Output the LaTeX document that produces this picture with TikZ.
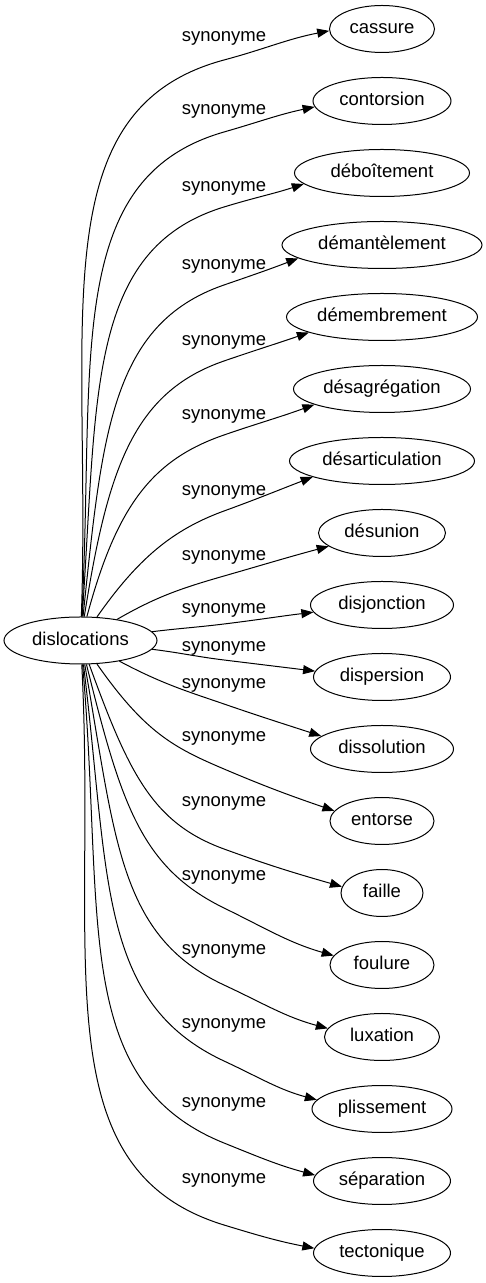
\documentclass[tikz,border=0pt]{standalone}
\usepackage{fontspec}
\setmainfont{Liberation Sans}
\usetikzlibrary{arrows.meta,shapes.geometric}
\begin{document}
\begin{tikzpicture}[x=1pt,y=1pt,
  every node/.style={font=\fontsize{18.5}{22}\selectfont, text height=13.5pt, text depth=3.9pt, inner sep=0pt},
  term/.style={draw, ellipse, line width=1pt, minimum height=47pt},
  link/.style={draw, line width=1pt, -{Triangle[length=12pt,width=9pt]}},
  far/.style={out looseness=1.3, in looseness=0.85},
  mid/.style={out looseness=1.1, in looseness=0.85}]
\useasboundingbox (0,0) rectangle (486,1283);
\node[term, minimum width=153pt] (src) at (80.5,642.5) {dislocations};
\node[term, minimum width=105pt] (t0) at (382,1254) {cassure};
\node[term, minimum width=138pt] (t1) at (382,1182) {contorsion};
\node[term, minimum width=175pt] (t2) at (382,1110) {déboîtement};
\node[term, minimum width=200pt] (t3) at (382,1038) {démantèlement};
\node[term, minimum width=191pt] (t4) at (382,966) {démembrement};
\node[term, minimum width=177pt] (t5) at (382,894) {désagrégation};
\node[term, minimum width=185pt] (t6) at (382,822) {désarticulation};
\node[term, minimum width=127pt] (t7) at (382,750) {désunion};
\node[term, minimum width=143pt] (t8) at (382,678) {disjonction};
\node[term, minimum width=137pt] (t9) at (382,606) {dispersion};
\node[term, minimum width=143pt] (t10) at (382,534) {dissolution};
\node[term, minimum width=104pt] (t11) at (382,462) {entorse};
\node[term, minimum width=82pt] (t12) at (382,390) {faille};
\node[term, minimum width=104pt] (t13) at (382,318) {foulure};
\node[term, minimum width=115pt] (t14) at (382,246) {luxation};
\node[term, minimum width=140pt] (t15) at (382,174) {plissement};
\node[term, minimum width=137pt] (t16) at (382,102) {séparation};
\node[term, minimum width=137pt] (t17) at (382,30) {tectonique};
\foreach \i/\y in {0/1246,1/1173,2/1096,3/1018,4/942,5/868,6/792,7/727,8/674,9/636,10/599,11/546,12/481,13/407,14/333,15/259,16/180,17/104}
  \node (l\i) at (224,\y) {synonyme};
\coordinate (m0) at (224,1223);
\coordinate (m1) at (224,1151);
\coordinate (m2) at (224,1076);
\coordinate (m3) at (224,998);
\coordinate (m4) at (224,922);
\coordinate (m5) at (224,848);
\coordinate (m6) at (224,772);
\coordinate (m7) at (224,707);
\coordinate (m8) at (224,659);
\coordinate (m9) at (224,623);
\coordinate (m10) at (224,579);
\coordinate (m11) at (224,514);
\coordinate (m12) at (224,434);
\coordinate (m13) at (224,375);
\coordinate (m14) at (224,298);
\coordinate (m15) at (224,222);
\coordinate (m16) at (224,140);
\coordinate (m17) at (224,58);
\draw[link] (src) to[out=88,in=195,far] (m0) to[out=15,in=191] (t0.182);
\draw[link] (src) to[out=87,in=196,far] (m1) to[out=16,in=192] (t1.185);
\draw[link] (src) to[out=86,in=197,far] (m2) to[out=17,in=198] (t2.188);
\draw[link] (src) to[out=84,in=199,far] (m3) to[out=19,in=201] (t3.189.5);
\draw[link] (src) to[out=81,in=199,far] (m4) to[out=19,in=199] (t4.192);
\draw[link] (src) to[out=75,in=199,far] (m5) to[out=19,in=200] (t5.193);
\draw[link] (src) to[out=55,in=200,mid] (m6) to[out=20,in=201] (t6.193.6);
\draw[link] (src) to[out=30,in=196] (m7) to[out=16,in=195] (t7.194.5);
\draw[link] (src) to[out=7,in=187] (m8) to[out=7,in=187] (t8.186.6);
\draw[link] (src) to[out=-7,in=173] (m9) to[out=-7,in=173] (t9.175.7);
\draw[link] (src) to[out=-28,in=161,mid] (m10) to[out=-19,in=162] (t10.168.9);
\draw[link] (src) to[out=-55,in=157,far] (m11) to[out=-23,in=161] (t11.168.5);
\draw[link] (src) to[out=-70,in=160,far] (m12) to[out=-20,in=164] (t12.171.5);
\draw[link] (src) to[out=-76,in=154,far] (m13) to[out=-26,in=164] (t13.169.8);
\draw[link] (src) to[out=-80,in=155,far] (m14) to[out=-25,in=165] (t14.171.9);
\draw[link] (src) to[out=-83,in=155,far] (m15) to[out=-25,in=165] (t15.172.6);
\draw[link] (src) to[out=-85,in=158,far] (m16) to[out=-22,in=165] (t16.175.9);
\draw[link] (src) to[out=-87,in=163,far] (m17) to[out=-17,in=169] (t17.176.7);
\end{tikzpicture}
\end{document}
